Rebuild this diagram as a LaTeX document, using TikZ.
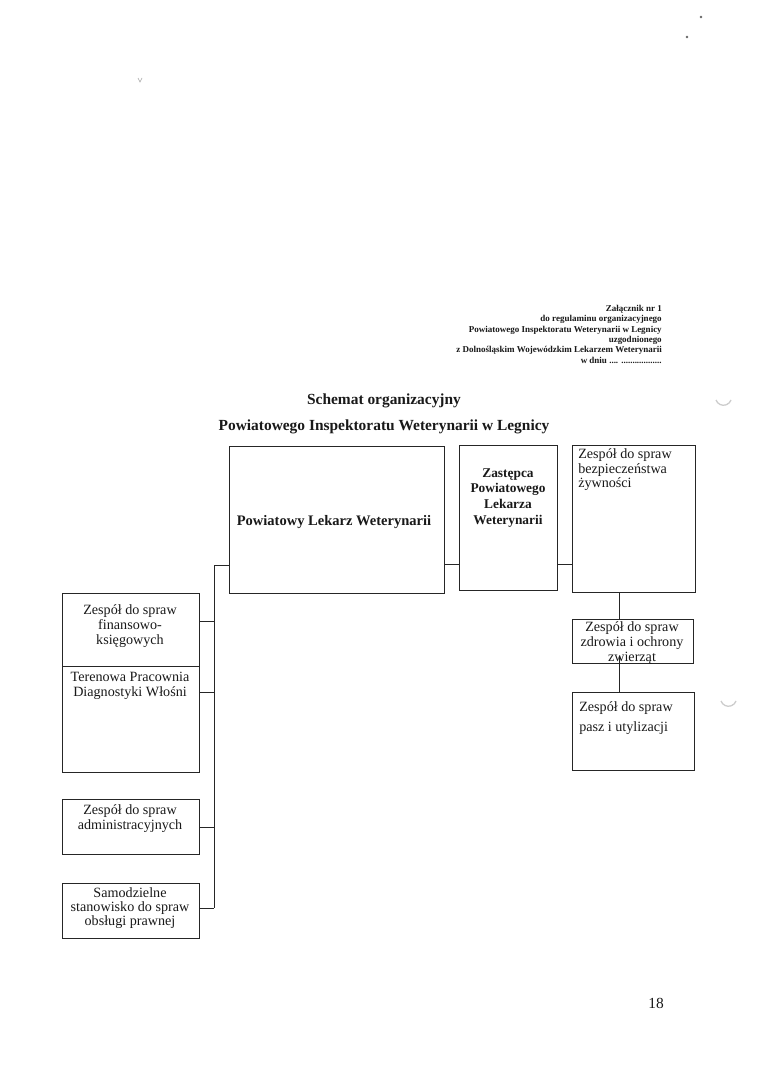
\documentclass[tikz,border=0pt]{standalone}
\usepackage{fontspec}
\setmainfont{Liberation Serif}
\usetikzlibrary{fit}
\newcommand\mkbox[5]{\path (#2,#3) coordinate (#1-a) (#4,#5) coordinate (#1-b);
  \node[box, fit=(#1-a)(#1-b)] (#1) {};}
\begin{document}
\begin{tikzpicture}[x=0.2734375mm,y=-0.2734375mm,
  box/.style={draw=black!85, line width=0.6pt, inner sep=0pt, outer sep=0pt},
  conn/.style={draw=black!85, line width=0.6pt},
  txt/.style={font=\fontsize{11}{11.8}\selectfont, align=center, inner sep=0pt, text=black!90},
  btxt/.style={font=\fontsize{12}{12.4}\selectfont\bfseries, align=center, inner sep=0pt, text=black!90},
  ltxt/.style={font=\fontsize{11}{11.6}\selectfont, align=left, inner sep=0pt, text=black!90},
  speck/.style={draw=black!35, line width=0.5pt}]
\useasboundingbox[fill=white] (0,0) rectangle (768,1086);

% header
\node[font=\fontsize{7}{8.06}\selectfont\bfseries, align=right, inner sep=0pt, anchor=north east, text=black!90] (hdr) at (662,305)
 {Załącznik nr 1\\do regulaminu organizacyjnego\\Powiatowego Inspektoratu Weterynarii w Legnicy\\uzgodnionego\\z Dolnośląskim Wojewódzkim Lekarzem Weterynarii\\w dniu .... ..................};

% titles
\node[btxt] (t1) at (384,401) {Schemat organizacyjny};
\node[btxt] (t2) at (384,427) {Powiatowego Inspektoratu Weterynarii w Legnicy};

% top row
\mkbox{plw}{229}{446}{444}{593}
\mkbox{zas}{459}{445}{557}{590}
\mkbox{zbz}{572}{445}{695}{592}
\node[btxt, font=\fontsize{11.3}{12.4}\selectfont\bfseries] (plwt) at (334,522) {Powiatowy Lekarz Weterynarii};
\node[btxt, font=\fontsize{10.4}{12.4}\selectfont\bfseries] (zast) at (508,498) {Zastępca\\Powiatowego\\Lekarza\\Weterynarii};
\node[ltxt, anchor=north west] (zbzt) at (578,448) {Zespół do spraw\\bezpieczeństwa\\żywności};

% right column
\mkbox{zd}{572}{619}{693}{663}
\mkbox{pz}{572}{692}{694}{770}
\node[txt] (zdt) at (632,643) {Zespół do spraw\\zdrowia i ochrony\\zwierząt};
\node[ltxt, anchor=north west] (pzt1) at (579,701) {Zespół do spraw};
\node[ltxt, anchor=north west] (pzt2) at (579,721) {pasz i utylizacji};

% left column
\mkbox{fin}{62}{593}{199}{666}
\mkbox{tp}{62}{666}{199}{772}
\mkbox{adm}{62}{799}{199}{854}
\mkbox{sam}{62}{883}{199}{938}
\node[txt] (fint) at (130,626) {Zespół do spraw\\finansowo-\\księgowych};
\node[txt] (tpt) at (130,686) {Terenowa Pracownia\\Diagnostyki Włośni};
\node[txt] (admt) at (130,819) {Zespół do spraw\\administracyjnych};
\node[txt, font=\fontsize{11}{10.8}\selectfont] (samt) at (130,908) {Samodzielne\\stanowisko do spraw\\obsługi prawnej};

% connectors
\coordinate (h1) at (450,564);
\draw[conn] (plw.east |- h1) -- (zas.west |- h1);
\draw[conn] (zas.east |- h1) -- (zbz.west |- h1);
\coordinate (trunk) at (214,565);
\coordinate (ya) at (0,621);
\coordinate (yb) at (0,692);
\coordinate (yc) at (0,827);
\coordinate (yd) at (0,908);
\draw[conn] (plw.west |- trunk) -- (trunk) -- (trunk |- yd);
\draw[conn] (fin.east |- ya) -- (trunk |- ya);
\draw[conn] (tp.east |- yb) -- (trunk |- yb);
\draw[conn] (adm.east |- yc) -- (trunk |- yc);
\draw[conn] (sam.east |- yd) -- (trunk |- yd);
\coordinate (vx) at (619,0);
\draw[conn] (zbz.south -| vx) -- (zd.north -| vx);
\coordinate (vtop) at (619,657);
\draw[conn] (vtop) -- (pz.north -| vx);

% page number
\node[font=\fontsize{12}{14}\selectfont, inner sep=0pt, text=black!90] (pg) at (656,1003) {18};

% scan specks
\fill[black!60] (701,17) circle (1.3);
\fill[black!60] (687,37) circle (1.3);
\draw[speck] (138,78) -- (140,82) -- (142,78);
\draw[speck, draw=black!20, line width=1pt] (716,400) arc[start angle=160, end angle=20, radius=8];
\draw[speck, draw=black!20, line width=1pt] (721,701) arc[start angle=160, end angle=20, radius=8];
\end{tikzpicture}
\end{document}
